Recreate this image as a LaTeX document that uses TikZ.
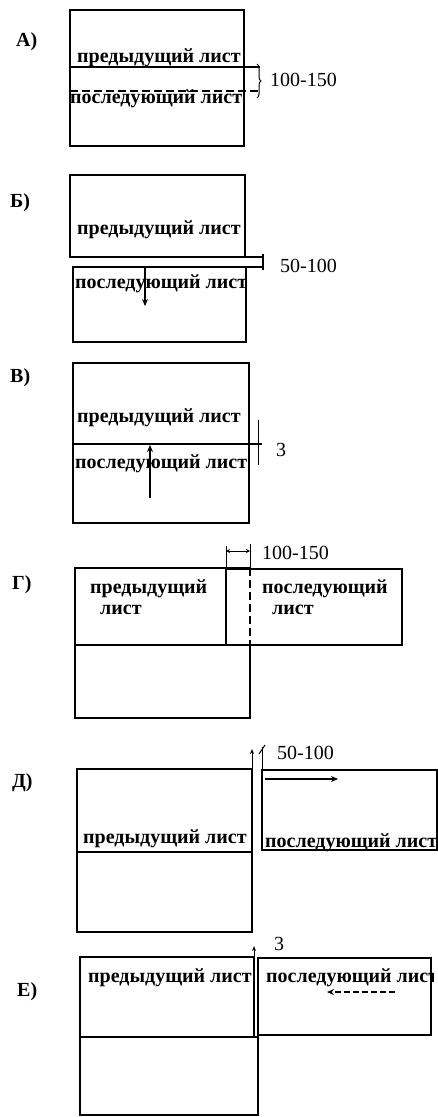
\documentclass[tikz,border=0pt]{standalone}
\usepackage{fontspec}
\setmainfont{Liberation Serif}
\usetikzlibrary{arrows.meta,decorations.pathreplacing}
\begin{document}
\begin{tikzpicture}[x=1pt,y=-1pt,
  ln/.style={line width=1.6pt},
  thin/.style={line width=1pt},
  lbl/.style={inner sep=0pt,anchor=base west,font=\bfseries\fontsize{20}{23}\selectfont},
  dimtext/.style={inner sep=0pt,anchor=west,font=\fontsize{20}{24}\selectfont},
  tag/.style={inner sep=0pt,anchor=west,font=\fontsize{20}{24}\selectfont\bfseries},
  arr/.style={line width=1.1pt,-{Stealth[length=7pt,width=6pt]}},
  tick/.style={line width=1pt,-{Stealth[length=5pt,width=4pt]}},
  dsh/.style={line width=1.4pt,dash pattern=on 8pt off 4pt}]
\useasboundingbox (0,0) rectangle (438,1117);

% ---------------- A
\node[tag] (tA) at (16,42) {А)};
\draw[ln] (70,10) rectangle (244,146);
\draw[ln] (70,67) -- (260,67);
\draw[dsh] (70,91) -- (260,91);
\draw[thin,decorate,decoration={brace,amplitude=4pt}] (257,64) -- (257,98);
\node[dimtext] (dA) at (270,80) {100-150};
\node[lbl] (pA) at (77,62) {предыдущий лист};
\node[lbl] (fA) at (70,103) {последующий лист};

% ---------------- B
\node[tag] (tB) at (10,203) {Б)};
\draw[ln] (70,175) rectangle (245,257);
\draw[ln] (73,267) rectangle (246,342);
\draw[ln] (245,257) -- (263,257);
\draw[ln] (246,267) -- (263,267);
\draw[ln] (263,254) -- (263,270);
\node[dimtext] (dB) at (280,266) {50-100};
\node[lbl] (pB) at (77,234) {предыдущий лист};
\node[lbl] (fB) at (75,288) {последующий лист};
\coordinate (bA1) at (145,267);
\coordinate (bA2) at (145,306);
\draw[arr] (bA1) -- (bA2);

% ---------------- V
\node[tag] (tV) at (10,378) {В)};
\draw[ln] (73,363) rectangle (249,523);
\draw[ln] (73,444) -- (262,444);
\draw[thin] (258,420) -- (258,465);
\node[dimtext] (dV) at (276,450) {3};
\node[lbl] (pV) at (77,422) {предыдущий лист};
\node[lbl] (fV) at (75,468) {последующий лист};
\coordinate (vA1) at (150,498);
\coordinate (vA2) at (150,445);
\draw[arr] (vA1) -- (vA2);

% ---------------- G
\node[tag] (tG) at (12,585) {Г)};
\draw[ln] (226,569) rectangle (402,645);
\draw[ln] (250,568) -- (75,568) -- (75,645) -- (250,645);
\draw[dsh] (250,568) -- (250,645);
\draw[ln] (75,645) rectangle (250,718);
\draw[thin] (226,569) -- (226,546);
\draw[thin] (250,568) -- (250,544);
\draw[thin,{Stealth[length=4pt,width=4pt]}-{Stealth[length=4pt,width=4pt]}] (226,551) -- (250,551);
\node[dimtext] (dG) at (262,553) {100-150};
\node[lbl] (pG1) at (90,593) {предыдущий};
\node[lbl] (pG2) at (100,614) {лист};
\node[lbl] (fG1) at (262,593) {последующий};
\node[lbl] (fG2) at (272,614) {лист};

% ---------------- D
\node[tag] (tD) at (12,783) {Д)};
\draw[ln] (77,769) rectangle (252,852);
\draw[ln] (77,852) rectangle (252,932);
\draw[ln] (262,770) rectangle (437,850);
\draw[tick] (252,769) -- (252,749);
\draw[thin] (262,770) -- (262,747);
\draw[thin] (259,754) -- (265,745);
\node[dimtext] (dD) at (277,753) {50-100};
\node[lbl] (pD) at (83,843) {предыдущий лист};
\node[lbl] (fD) at (265,847) {последующий лист};
\coordinate (dA1) at (265,779);
\coordinate (dA2) at (338,779);
\draw[arr] (dA1) -- (dA2);

% ---------------- E
\node[tag] (tE) at (17,992) {Е)};
\draw[ln] (80,957) rectangle (254,1037);
\draw[ln] (80,1037) rectangle (258,1115);
\draw[ln] (258,958) rectangle (431,1035);
\draw[tick] (254,957) -- (254,946);
\node[dimtext] (dE) at (274,944) {3};
\node[lbl] (pE) at (88,982) {предыдущий лист};
\begin{scope}
  \clip (258,940) rectangle (433,1040);
  \node[lbl] (fE) at (266,982) {последующий лист};
\end{scope}
\coordinate (eA1) at (395,992);
\coordinate (eA2) at (327,992);
\draw[arr,dash pattern=on 6pt off 3pt] (eA1) -- (eA2);
\end{tikzpicture}
\end{document}
